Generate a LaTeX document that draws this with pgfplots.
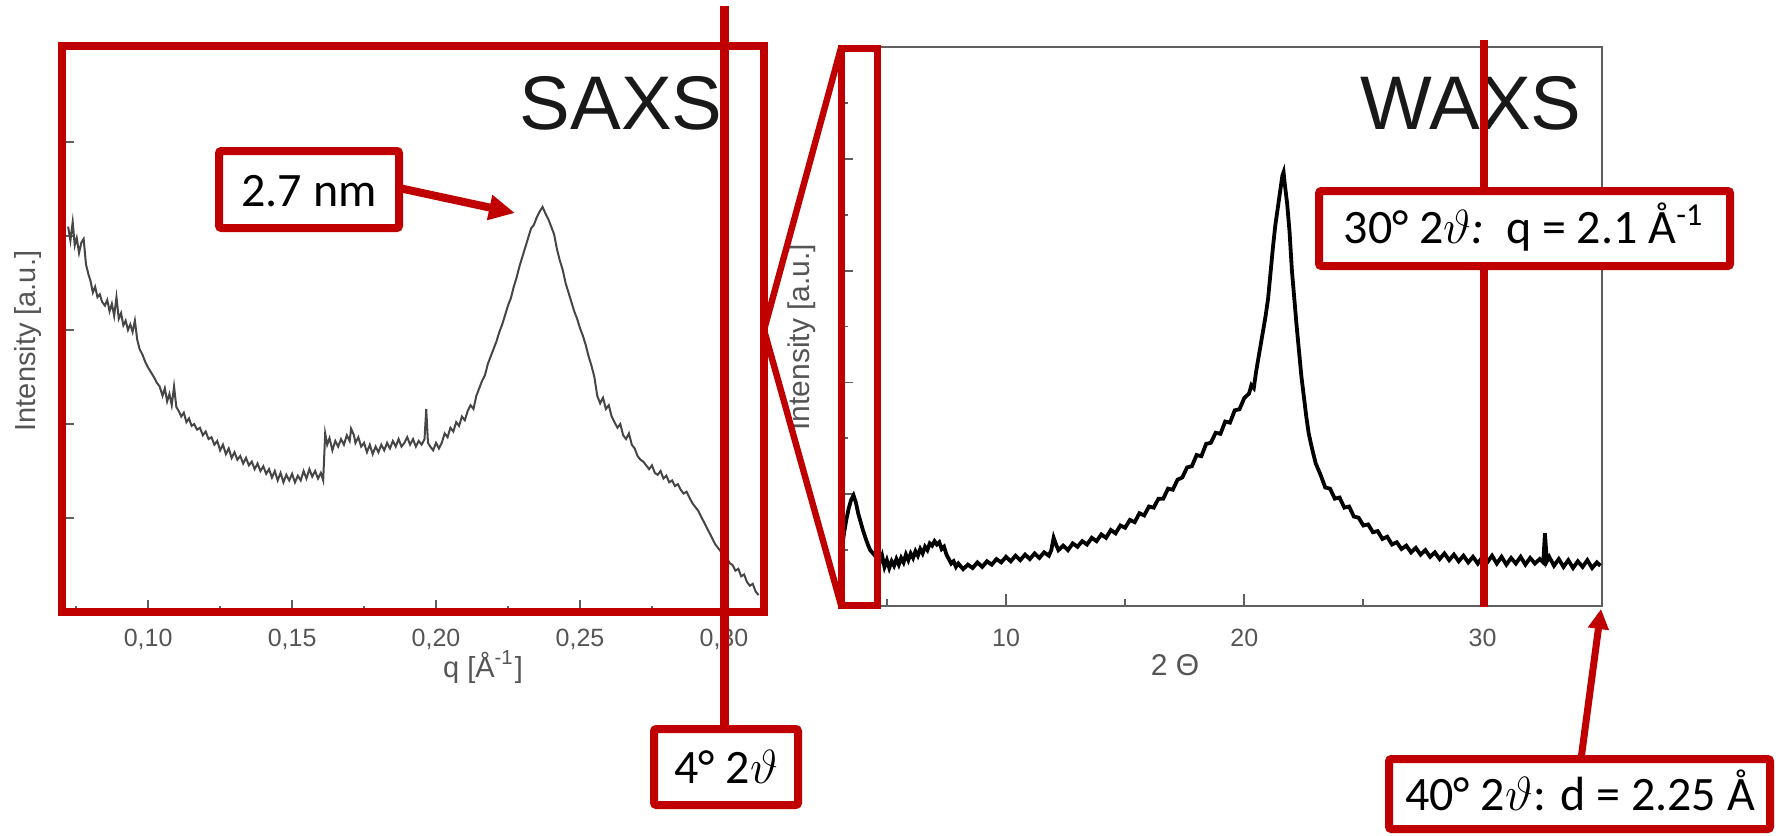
\documentclass[border=0pt]{standalone}
\usepackage{fontspec}
\usepackage{pgfplots}
\pgfplotsset{compat=1.18}
\usetikzlibrary{arrows.meta}
\setmainfont{Liberation Sans}
\newfontfamily\calfont{Carlito}
\definecolor{annred}{RGB}{192,0,0}
\definecolor{axgray}{RGB}{95,95,95}
\definecolor{txtgray}{RGB}{85,85,85}
\definecolor{curvegray}{RGB}{70,70,70}

\begin{document}
\begin{tikzpicture}
\path[use as bounding box] (0pt,0pt) rectangle (445.75pt,-208.75pt);

% ---------------- SAXS ----------------
\begin{axis}[
  at={(15.5pt,-153pt)}, anchor=south west,
  scale only axis, width=175.5pt, height=141pt,
  xmin=0.07008, xmax=0.31392, ymin=0, ymax=6,
  xtick={0.10,0.15,0.20,0.25,0.30},
  xticklabels={{0,10},{0,15},{0,20},{0,25},{0,30}},
  minor xtick={0.075,0.125,0.175,0.225,0.275},
  ytick={1,2,3,4,5}, yticklabels={},
  tick pos=left, tick align=inside,
  major tick length=3pt, minor tick length=1.6pt,
  tick style={axgray, line width=0.45pt},
  axis line style={axgray, line width=0.5pt},
  tick label style={font=\fontsize{6.25}{7}\selectfont, text=txtgray},
  xticklabel style={yshift=-0.6pt},
  label style={font=\fontsize{7.25}{8}\selectfont, text=txtgray},
  xlabel={q [Å\textsuperscript{-1}]},
  ylabel={Intensity [a.u.]},
  xlabel style={at={(axis description cs:0.5997,-0.0975)}, anchor=center},
  ylabel style={at={(axis description cs:-0.0491,0.4805)}, anchor=center},
]
\addplot[curvegray, line width=0.5pt] coordinates {
(0.0722,4.10) (0.0730,3.95) (0.0738,4.15) (0.0745,3.90) (0.0752,3.98) (0.0760,3.82)
(0.0768,3.93) (0.0776,3.97) (0.0784,3.70) (0.0792,3.60) (0.0800,3.52) (0.0808,3.40)
(0.0816,3.46) (0.0824,3.35) (0.0832,3.38) (0.0840,3.30) (0.0850,3.26) (0.0858,3.32)
(0.0866,3.20) (0.0874,3.28) (0.0882,3.15) (0.0890,3.35) (0.0898,3.12) (0.0906,3.18)
(0.0914,3.05) (0.0922,3.10) (0.0930,3.00) (0.0938,3.06) (0.0946,2.98) (0.0954,3.10)
(0.0962,2.90) (0.0970,2.80) (0.0980,2.74) (0.0990,2.66) (0.1000,2.60) (0.1010,2.55)
(0.1020,2.50) (0.1030,2.44) (0.1040,2.40) (0.1050,2.30) (0.1058,2.38) (0.1066,2.24)
(0.1074,2.32) (0.1082,2.20) (0.1090,2.40) (0.1098,2.18) (0.1106,2.14) (0.1115,2.08)
(0.1124,2.12) (0.1133,2.02) (0.1142,2.06) (0.1151,1.98) (0.1160,2.00) (0.1170,1.94)
(0.1180,1.96) (0.1190,1.88) (0.1200,1.92) (0.1210,1.84) (0.1220,1.86) (0.1230,1.78)
(0.1240,1.82) (0.1250,1.72) (0.1260,1.78) (0.1270,1.68) (0.1280,1.74) (0.1290,1.64)
(0.1300,1.70) (0.1310,1.62) (0.1320,1.66) (0.1330,1.58) (0.1340,1.64) (0.1350,1.56)
(0.1360,1.60) (0.1370,1.52) (0.1380,1.58) (0.1390,1.50) (0.1400,1.55) (0.1410,1.47)
(0.1420,1.52) (0.1430,1.43) (0.1440,1.50) (0.1450,1.40) (0.1460,1.48) (0.1470,1.38)
(0.1480,1.46) (0.1490,1.40) (0.1500,1.47) (0.1510,1.38) (0.1520,1.45) (0.1530,1.40)
(0.1540,1.50) (0.1550,1.42) (0.1560,1.52) (0.1570,1.44) (0.1580,1.50) (0.1590,1.42)
(0.1600,1.48) (0.1608,1.40) (0.1615,1.90) (0.1622,1.78) (0.1630,1.85) (0.1640,1.72)
(0.1650,1.82) (0.1660,1.76) (0.1670,1.84) (0.1680,1.78) (0.1690,1.88) (0.1700,1.82)
(0.1705,1.95) (0.1715,1.88) (0.1720,1.80) (0.1730,1.86) (0.1740,1.76) (0.1750,1.80)
(0.1760,1.70) (0.1770,1.78) (0.1780,1.68) (0.1790,1.76) (0.1800,1.70) (0.1810,1.78)
(0.1820,1.72) (0.1830,1.80) (0.1840,1.74) (0.1850,1.82) (0.1860,1.76) (0.1870,1.84)
(0.1880,1.76) (0.1890,1.80) (0.1900,1.86) (0.1910,1.78) (0.1920,1.84) (0.1930,1.76)
(0.1940,1.82) (0.1950,1.78) (0.1960,1.84) (0.1966,2.16) (0.1972,1.80) (0.1980,1.76)
(0.1990,1.72) (0.2000,1.80) (0.2010,1.74) (0.2020,1.80) (0.2030,1.90) (0.2040,1.86)
(0.2050,1.96) (0.2060,1.92) (0.2070,2.02) (0.2080,1.98) (0.2090,2.08) (0.2100,2.04)
(0.2110,2.14) (0.2120,2.20) (0.2130,2.16) (0.2140,2.30) (0.2150,2.38) (0.2160,2.46)
(0.2170,2.52) (0.2180,2.64) (0.2190,2.72) (0.2200,2.80) (0.2210,2.88) (0.2220,2.98)
(0.2230,3.06) (0.2240,3.16) (0.2250,3.26) (0.2260,3.34) (0.2270,3.46) (0.2280,3.56)
(0.2290,3.68) (0.2300,3.78) (0.2310,3.88) (0.2320,3.98) (0.2330,4.08) (0.2340,4.12)
(0.2350,4.20) (0.2360,4.26) (0.2370,4.31) (0.2380,4.24) (0.2390,4.18) (0.2400,4.10)
(0.2410,4.02) (0.2420,3.86) (0.2430,3.74) (0.2440,3.64) (0.2450,3.50) (0.2460,3.40)
(0.2470,3.30) (0.2480,3.20) (0.2490,3.12) (0.2500,3.02) (0.2510,2.94) (0.2520,2.84)
(0.2530,2.72) (0.2540,2.62) (0.2550,2.50) (0.2560,2.30) (0.2570,2.22) (0.2580,2.28)
(0.2590,2.16) (0.2600,2.20) (0.2610,2.08) (0.2620,2.02) (0.2630,1.96) (0.2640,2.00)
(0.2650,1.88) (0.2660,1.84) (0.2670,1.90) (0.2680,1.78) (0.2690,1.74) (0.2700,1.66)
(0.2710,1.62) (0.2720,1.60) (0.2730,1.56) (0.2740,1.52) (0.2750,1.56) (0.2760,1.48)
(0.2770,1.46) (0.2780,1.50) (0.2790,1.42) (0.2800,1.45) (0.2810,1.38) (0.2820,1.40)
(0.2830,1.34) (0.2840,1.36) (0.2850,1.30) (0.2860,1.26) (0.2870,1.28) (0.2880,1.22)
(0.2890,1.16) (0.2900,1.12) (0.2910,1.08) (0.2920,1.02) (0.2930,0.96) (0.2940,0.90)
(0.2950,0.84) (0.2960,0.78) (0.2970,0.72) (0.2980,0.68) (0.2990,0.64) (0.3000,0.60)
(0.3010,0.58) (0.3020,0.52) (0.3030,0.50) (0.3040,0.44) (0.3050,0.46) (0.3060,0.38)
(0.3070,0.40) (0.3080,0.32) (0.3090,0.28) (0.3100,0.30) (0.3110,0.22) (0.3120,0.18)
};
\end{axis}

% ---------------- WAXS ----------------
\begin{axis}[
  at={(210.25pt,-151.5pt)}, anchor=south west,
  scale only axis, width=190.25pt, height=139.75pt,
  xmin=3.075, xmax=35.016, ymin=0, ymax=10,
  xtick={10,20,30}, xticklabels={10,20,30}, minor xtick={5,15,25},
  ytick={2,4,6,8}, minor ytick={1,3,5,7,9}, yticklabels={},
  tick pos=left, tick align=inside,
  major tick length=3pt, minor tick length=1.8pt,
  tick style={axgray, line width=0.45pt},
  axis line style={axgray, line width=0.7pt},
  tick label style={font=\fontsize{6.25}{7}\selectfont, text=txtgray},
  xticklabel style={yshift=-2.2pt},
  label style={font=\fontsize{7.5}{8}\selectfont, text=txtgray},
  xlabel={2 Θ},
  ylabel={Intensity [a.u.]},
  xlabel style={at={(axis description cs:0.439,-0.1055)}, anchor=center},
  ylabel style={at={(axis description cs:-0.0512,0.481)}, anchor=center},
]
\addplot[black, line width=0.95pt] coordinates {
(3.10,1.00) (3.20,1.30) (3.30,1.55) (3.40,1.75) (3.50,1.90) (3.60,1.98) (3.70,1.85)
(3.80,1.65) (3.90,1.50) (4.00,1.35) (4.10,1.22) (4.20,1.10) (4.30,1.00) (4.40,0.95)
(4.50,0.90) (4.60,0.86) (4.7,0.78) (4.8,0.90) (4.9,0.70) (5.0,0.82) (5.1,0.68) (5.2,0.80)
(5.3,0.72) (5.4,0.84) (5.5,0.74) (5.6,0.86) (5.7,0.78) (5.8,0.92) (5.9,0.82) (6.0,0.94)
(6.1,0.86) (6.2,0.98) (6.3,0.90) (6.4,1.02) (6.5,0.94) (6.6,1.06) (6.7,1.00) (6.8,1.12)
(6.9,1.08) (7.0,1.16) (7.1,1.10) (7.2,1.14) (7.3,1.02) (7.4,1.06) (7.5,0.92) (7.6,0.84)
(7.7,0.76) (7.8,0.80) (7.9,0.70) (8.0,0.76) (8.2,0.66) (8.4,0.74) (8.6,0.68) (8.8,0.78)
(9.0,0.70) (9.2,0.80) (9.4,0.74) (9.6,0.84) (9.8,0.78) (10.0,0.88) (10.2,0.80) (10.4,0.90)
(10.6,0.82) (10.8,0.92) (11.0,0.84) (11.2,0.94) (11.4,0.86) (11.6,0.96) (11.8,0.90)
(11.9,1.00) (12.0,1.22) (12.1,1.10) (12.2,1.00) (12.4,1.08) (12.6,1.00) (12.8,1.12)
(13.0,1.06) (13.2,1.16) (13.4,1.10) (13.6,1.22) (13.8,1.16) (14.0,1.28) (14.2,1.22)
(14.4,1.36) (14.6,1.30) (14.8,1.44) (15.0,1.40) (15.2,1.54) (15.4,1.50) (15.6,1.66)
(15.8,1.62) (16.0,1.78) (16.2,1.76) (16.4,1.92) (16.6,1.92) (16.8,2.10) (17.0,2.08)
(17.2,2.26) (17.4,2.30) (17.6,2.48) (17.8,2.50) (18.0,2.70) (18.2,2.68) (18.4,2.90)
(18.6,2.92) (18.8,3.10) (19.0,3.08) (19.2,3.30) (19.4,3.28) (19.6,3.50) (19.8,3.52)
(20.0,3.72) (20.2,3.80) (20.3,3.95) (20.4,3.90) (20.5,4.20) (20.6,4.45) (20.7,4.70)
(20.8,4.95) (20.9,5.20) (21.0,5.50) (21.1,5.95) (21.2,6.40) (21.3,6.80) (21.4,7.10)
(21.5,7.40) (21.6,7.70) (21.65,7.76) (21.7,7.55) (21.8,7.20) (21.9,6.70) (22.0,6.00)
(22.1,5.50) (22.2,5.00) (22.3,4.55) (22.4,4.10) (22.5,3.75) (22.6,3.40) (22.7,3.10)
(22.8,2.90) (22.9,2.72) (23.0,2.55) (23.2,2.35) (23.4,2.12) (23.6,2.10) (23.8,1.92)
(24.0,1.94) (24.2,1.76) (24.4,1.78) (24.6,1.60) (24.8,1.58) (25.0,1.44) (25.2,1.46)
(25.4,1.32) (25.6,1.34) (25.8,1.20) (26.0,1.24) (26.2,1.10) (26.4,1.14) (26.6,1.02)
(26.8,1.08) (27.0,0.96) (27.2,1.04) (27.4,0.92) (27.6,1.00) (27.8,0.88) (28.0,0.96)
(28.2,0.84) (28.4,0.94) (28.6,0.82) (28.8,0.92) (29.0,0.80) (29.2,0.90) (29.4,0.78)
(29.6,0.88) (29.8,0.76) (30.0,0.88) (30.2,0.78) (30.4,0.90) (30.6,0.76) (30.8,0.88)
(31.0,0.74) (31.2,0.86) (31.4,0.76) (31.6,0.88) (31.8,0.74) (32.0,0.86) (32.2,0.76)
(32.4,0.84) (32.55,0.78) (32.62,1.30) (32.7,0.80) (32.8,0.88) (33.0,0.72) (33.2,0.84)
(33.4,0.70) (33.6,0.82) (33.8,0.68) (34.0,0.80) (34.2,0.70) (34.4,0.82) (34.6,0.68)
(34.8,0.78) (34.95,0.72)
};
\end{axis}

% ---------------- annotations (pixel coordinates) ----------------
\begin{scope}[x=0.25pt,y=-0.25pt]
\node[anchor=base, font=\fontsize{19}{22}\selectfont, text=black!90] at (621,129) {SAXS};
\node[anchor=base, font=\fontsize{19}{22}\selectfont, text=black!90] at (1471,129) {WAXS};

\draw[annred, line width=2pt] (62,46) rectangle (764,612);
\draw[annred, line width=2.25pt] (724,6) -- (724,729);
\draw[annred, line width=1.6pt] (764,330) -- (841,48);
\draw[annred, line width=1.6pt] (764,330) -- (841,605);
\draw[annred, line width=1.75pt] (841,48) rectangle (877,605);
\draw[annred, line width=2.1pt] (1484,40) -- (1484,607);

% 2.7 nm
\draw[annred, line width=2pt, -{Triangle[length=6.5pt,width=6pt]}] (399,188) -- (515,213);
\filldraw[fill=white, draw=annred, line width=2pt, rounded corners=0.6pt] (219,151) rectangle (399,228);
\node[anchor=base, font=\calfont\fontsize{12}{14}\selectfont] at (309,206) {2.7 nm};

% 4 deg
\filldraw[fill=white, draw=annred, line width=2pt, rounded corners=0.6pt] (654,729) rectangle (798,805);
\node[anchor=base, font=\calfont\fontsize{12}{14}\selectfont] at (726,783) {4°\ 2$\vartheta$};

% 30 deg
\filldraw[fill=white, draw=annred, line width=2pt, rounded corners=0.6pt] (1319,191) rectangle (1730,266);
\node[anchor=base, font=\calfont\fontsize{12}{14}\selectfont] at (1524,243) {30°\ 2$\vartheta$\textit{:}\ \ q = 2.1 Å\textsuperscript{-1}};

% 40 deg
\draw[annred, line width=1.75pt, -{Triangle[length=5pt,width=5pt]}] (1581,759) -- (1601,609);
\filldraw[fill=white, draw=annred, line width=2pt, rounded corners=0.6pt] (1389,759) rectangle (1770,829);
\node[anchor=base, font=\calfont\fontsize{12}{14}\selectfont] at (1580,810) {40°\ 2$\vartheta$: d = 2.25 Å};
\end{scope}
\end{tikzpicture}
\end{document}
